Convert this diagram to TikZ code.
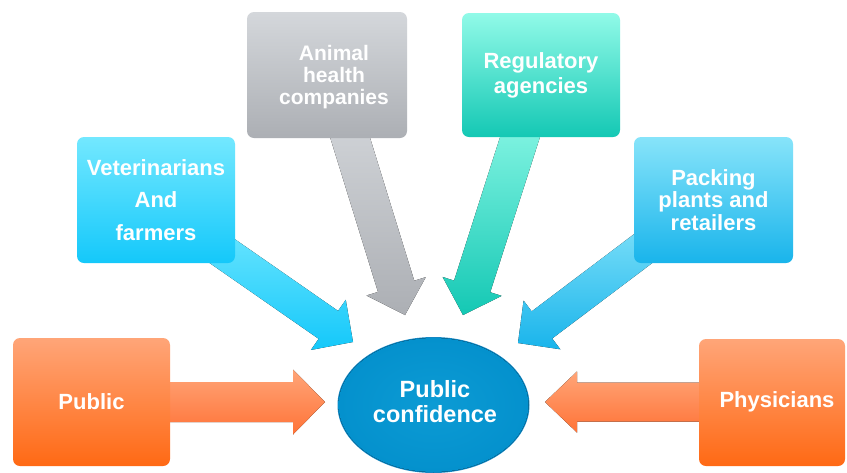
\documentclass[tikz,border=0pt]{standalone}
\usepackage{fontspec}
\setmainfont{Liberation Sans}
\usetikzlibrary{calc}

\definecolor{orT}{RGB}{255,165,120}
\definecolor{orB}{RGB}{255,105,20}
\definecolor{orAT}{RGB}{255,165,120}
\definecolor{orAB}{RGB}{255,115,55}
\definecolor{grT}{RGB}{212,215,219}
\definecolor{grB}{RGB}{172,175,180}
\definecolor{cyT}{RGB}{115,232,255}
\definecolor{cyB}{RGB}{20,200,250}
\definecolor{tlT}{RGB}{145,250,232}
\definecolor{tlB}{RGB}{20,200,180}
\definecolor{pkT}{RGB}{135,228,250}
\definecolor{pkB}{RGB}{25,180,235}
\definecolor{elIn}{RGB}{12,155,212}
\definecolor{elOut}{RGB}{4,145,205}
\definecolor{elEdge}{RGB}{20,135,195}

\newcommand{\fatarrow}[6]{%
  \coordinate (fa-h) at ($(#2)!#5!(#1)$);
  \fill[#6] ($(#1)!#3!90:(#2)$) -- ($(fa-h)!#3!90:(#2)$) -- ($(fa-h)!#4!90:(#2)$)
    -- (#2) -- ($(fa-h)!#4!-90:(#2)$) -- ($(fa-h)!#3!-90:(#2)$)
    -- ($(#1)!#3!-90:(#2)$) -- cycle;
}

\tikzset{
  boxbase/.style={rounded corners=7pt, text=white,
    font=\bfseries\fontsize{22}{24}\selectfont, align=center, inner sep=0pt},
  orbox/.style={boxbase, top color=orT, bottom color=orB},
  grbox/.style={boxbase, top color=grT, bottom color=grB},
  cybox/.style={boxbase, top color=cyT, bottom color=cyB},
  tlbox/.style={boxbase, top color=tlT, bottom color=tlB},
  pkbox/.style={boxbase, top color=pkT, bottom color=pkB},
  orarrow/.style={top color=orAT, bottom color=orAB},
  grarrow/.style={top color=grT, bottom color=grB},
  cyarrow/.style={top color=cyT, bottom color=cyB},
  tlarrow/.style={top color=tlT, bottom color=tlB},
  pkarrow/.style={top color=pkT, bottom color=pkB},
  labeltext/.style={text=white, align=center, inner sep=0pt},
}

\begin{document}
\begin{tikzpicture}[x=1pt,y=-1pt]
\fill[white] (0,0) rectangle (847,472);
\useasboundingbox (0,0) rectangle (847,472);

% arrow start / tip coordinates
\coordinate (gA) at (340,105);   \coordinate (gB) at (405,315);
\coordinate (vA) at (189,228);   \coordinate (vB) at (353,342);
\coordinate (tA) at (530.7,103.7); \coordinate (tB) at (463,315);
\coordinate (pA) at (677.6,222.6); \coordinate (pB) at (518,343);
\coordinate (uA) at (150,402);   \coordinate (uB) at (325,402);
\coordinate (yA) at (720,402);   \coordinate (yB) at (545,402);

\fatarrow{gA}{gB}{19pt}{31pt}{30pt}{grarrow}
\fatarrow{vA}{vB}{17pt}{30.5pt}{30pt}{cyarrow}
\fatarrow{tA}{tB}{19pt}{31pt}{30pt}{tlarrow}
\fatarrow{pA}{pB}{17pt}{30.5pt}{30pt}{pkarrow}
\fatarrow{uA}{uB}{20pt}{32.5pt}{32pt}{orarrow}
\fatarrow{yA}{yB}{19.5pt}{30.5pt}{32pt}{orarrow}

% boxes
\node[orbox, minimum width=157pt, minimum height=128pt] (public) at (91.5,402) {Public};
\node[orbox, minimum width=146pt, minimum height=127pt] (phys) at (772,402.5) {};
\node[labeltext, font=\bfseries\fontsize{22}{24}\selectfont] (physt) at (777,402) {Physicians};
\node[cybox, minimum width=158pt, minimum height=126pt,
      font=\bfseries\fontsize{22}{32.5}\selectfont] (vet) at (156,200) {Veterinarians\\And\\farmers};
\node[grbox, minimum width=160pt, minimum height=126pt] (animal) at (327,75) {};
\node[labeltext, font=\bfseries\fontsize{21}{22}\selectfont] (animalt) at (334,77) {Animal\\health\\companies};
\node[tlbox, minimum width=158pt, minimum height=124pt,
      font=\bfseries\fontsize{22}{25}\selectfont] (reg) at (541,75) {Regulatory\\agencies};
\node[pkbox, minimum width=159pt, minimum height=126pt,
      font=\bfseries\fontsize{22}{22.5}\selectfont] (pack) at (713.5,200) {Packing\\plants and\\retailers};

% central ellipse
\fill[elEdge] (433.5,405) ellipse [x radius=96pt, y radius=68pt];
\fill[inner color=elIn, outer color=elOut] (433.5,405) ellipse [x radius=95pt, y radius=67pt];
\node[labeltext, font=\bfseries\fontsize{23.5}{25}\selectfont] (conf) at (435,402) {Public\\confidence};
\end{tikzpicture}
\end{document}
